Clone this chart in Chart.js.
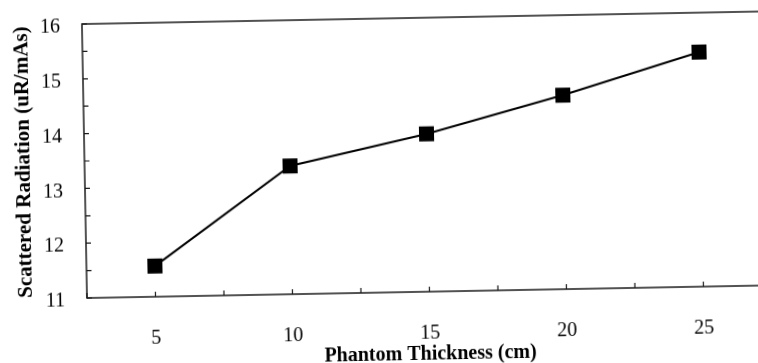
<!DOCTYPE html>
<html>
<head>
<meta charset="utf-8">
<script src="https://cdn.jsdelivr.net/npm/chart.js@4"></script>
<style>
  html, body { margin: 0; padding: 0; background: #fff; }
  #wrap { position: relative; width: 758px; height: 363px; overflow: hidden; }
  /* the scanned figure is tilted about one degree */
  #chart { position: absolute; left: 0; top: 0; transform-origin: 87px 298px; transform: rotate(-1.06deg); }
</style>
</head>
<body>
<div id="wrap"><canvas id="chart" width="800" height="373"></canvas></div>
<script>
// Data
const thickness = [5, 10, 15, 20, 25];
const scattered = [11.56, 13.34, 13.88, 14.54, 15.28];

const xTitle = 'Phantom Thickness (cm)';
const yTitle = 'Scattered Radiation (uR/mAs)';

// box around the plot and short inward tick marks
const frame = {
    id: 'frame',
    beforeDatasetsDraw(chart) {
        const ctx = chart.ctx;
        const a = chart.chartArea;
        const xs = chart.scales.x;
        const ys = chart.scales.y;
        ctx.save();
        ctx.strokeStyle = '#1a1a1a';
        ctx.lineWidth = 1.5;
        ctx.strokeRect(a.left, a.top, a.right - a.left, a.bottom - a.top);
        ctx.lineWidth = 1.2;
        ctx.beginPath();
        xs.ticks.forEach(t => {
            const px = xs.getPixelForValue(t.value);
            ctx.moveTo(px, a.bottom);
            ctx.lineTo(px, a.bottom - 5);
        });
        ys.ticks.forEach(t => {
            const py = ys.getPixelForValue(t.value);
            ctx.moveTo(a.left, py);
            ctx.lineTo(a.left + 5, py);
        });
        ctx.stroke();
        ctx.restore();
    }
};

const ctx = document.getElementById('chart').getContext('2d');
new Chart(ctx, {
    type: 'line',
    data: {
        datasets: [{
            data: thickness.map((t, i) => ({ x: t, y: scattered[i] })),
            borderColor: '#000',
            backgroundColor: '#000',
            borderWidth: 2,
            pointStyle: 'rect',
            pointRadius: 10.6,
            pointBorderWidth: 0,
            tension: 0
        }]
    },
    options: {
        responsive: false,
        animation: false,
        layout: { padding: { top: 24, right: 28, left: 0, bottom: 0 } },
        plugins: {
            legend: { display: false },
            tooltip: { enabled: false }
        },
        scales: {
            x: {
                type: 'linear',
                min: 2.5,
                max: 27.5,
                grid: { display: false, drawTicks: false },
                border: { display: false },
                ticks: {
                    stepSize: 2.5,
                    autoSkip: false,
                    maxRotation: 0,
                    padding: 30,
                    color: '#000',
                    font: { family: 'Liberation Serif', size: 20 },
                    callback: v => (v % 5 === 0 ? v : '')
                },
                title: {
                    display: true,
                    text: xTitle,
                    color: '#000',
                    padding: 0,
                    font: { family: 'Liberation Serif', size: 20, weight: 'bold' }
                },
                afterFit: scale => {
                    scale.height = 75;
                    scale.paddingLeft = 0;
                    scale.paddingRight = 0;
                }
            },
            y: {
                min: 11,
                max: 16,
                grid: { display: false, drawTicks: false },
                border: { display: false },
                ticks: {
                    stepSize: 0.5,
                    padding: 22,
                    labelOffset: 3,
                    color: '#000',
                    font: { family: 'Liberation Serif', size: 20 },
                    callback: v => (Number.isInteger(v) ? v : '')
                },
                title: {
                    display: true,
                    text: yTitle,
                    color: '#000',
                    padding: { top: 14, bottom: 0 },
                    font: { family: 'Liberation Serif', size: 21, weight: 'bold' }
                },
                afterFit: scale => {
                    scale.width = 87;
                    scale.paddingTop = 0;
                    scale.paddingBottom = 0;
                }
            }
        }
    },
    plugins: [frame]
});
</script>
</body>
</html>
